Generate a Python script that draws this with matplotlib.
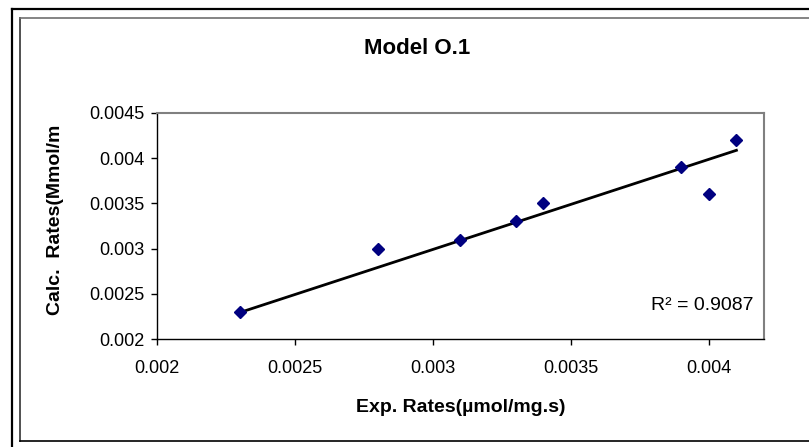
import numpy as np
import matplotlib
matplotlib.use('Agg')
import matplotlib.pyplot as plt
from matplotlib.lines import Line2D
from matplotlib.ticker import MultipleLocator, FuncFormatter

# values
exp_rates = np.array([0.0023, 0.0028, 0.0031, 0.0033, 0.0034, 0.0039, 0.0040, 0.0041])
calc_rates = np.array([0.0023, 0.0030, 0.0031, 0.0033, 0.0035, 0.0039, 0.0036, 0.0042])

title = 'Model O.1'
x_label = 'Exp. Rates(µmol/mg.s)'
y_label = 'Calc.  Rates(Mmol/m'

plt.rcParams['font.family'] = ['Liberation Sans', 'DejaVu Sans']

W, H = 809, 447
fig = plt.figure(figsize=(W / 100, H / 100), dpi=100)


def fx(px):
    return px / W


def fy(py):
    return 1 - py / H


ax = fig.add_axes([fx(157), fy(339), fx(764) - fx(157), fy(113) - fy(339)])

# trendline through origin (Excel style "set intercept = 0")
slope = np.sum(exp_rates * calc_rates) / np.sum(exp_rates ** 2)
fit = slope * exp_rates
r2 = 1 - np.sum((calc_rates - fit) ** 2) / np.sum((calc_rates - calc_rates.mean()) ** 2)
xl = np.array([exp_rates.min(), exp_rates.max()])
ax.plot(xl, slope * xl, color='black', lw=2.0, zorder=2)

ax.plot(exp_rates, calc_rates, 'D', color='#000080', markersize=6, zorder=3)

ax.set_xlim(0.002, 0.0042)
ax.set_ylim(0.002, 0.0045)
ax.xaxis.set_major_locator(MultipleLocator(0.0005))
ax.yaxis.set_major_locator(MultipleLocator(0.0005))
fmt = FuncFormatter(lambda v, p: f'{v:g}')
ax.xaxis.set_major_formatter(fmt)
ax.yaxis.set_major_formatter(fmt)
ax.tick_params(axis='both', direction='out', length=4, width=1, color='black', labelsize=13)
ax.tick_params(axis='x', pad=11)
ax.tick_params(axis='y', pad=5)

for s in ['left', 'bottom']:
    ax.spines[s].set_color('black')
    ax.spines[s].set_linewidth(1)
for s in ['top', 'right']:
    ax.spines[s].set_color('#808080')
    ax.spines[s].set_linewidth(1.5)

ax.text(0.982, 0.15, f'R² = {r2:.4f}', transform=ax.transAxes, ha='right', va='center', fontsize=14)

fig.text(fx(417), fy(49), title, ha='center', va='center', fontsize=16, fontweight='bold')
fig.text(fx(461), fy(407), x_label, ha='center', va='center', fontsize=14, fontweight='bold')
fig.text(fx(55), fy(220), y_label, ha='center', va='center', rotation=90, fontsize=14, fontweight='bold')

# chart borders (cut off at right and bottom in the reference)
fig.add_artist(Line2D([fx(12), fx(12)], [fy(9), fy(460)], color='black', lw=1.6, transform=fig.transFigure))
fig.add_artist(Line2D([fx(12), fx(830)], [fy(9), fy(9)], color='black', lw=1.6, transform=fig.transFigure))
fig.add_artist(Line2D([fx(20), fx(20)], [fy(17.5), fy(441)], color='#505050', lw=1.4, transform=fig.transFigure))
fig.add_artist(Line2D([fx(20), fx(830)], [fy(17.5), fy(17.5)], color='#707070', lw=1.2, transform=fig.transFigure))
fig.add_artist(Line2D([fx(20), fx(830)], [fy(441), fy(441)], color='black', lw=1.2, transform=fig.transFigure))

fig.savefig('out.png', dpi=100)
